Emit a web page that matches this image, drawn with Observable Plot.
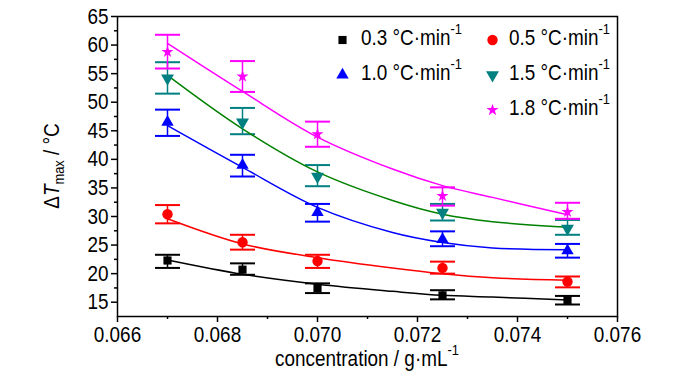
<!DOCTYPE html>
<html>
<head>
<meta charset="utf-8">
<script src="https://cdn.jsdelivr.net/npm/d3@7"></script>
<script src="https://cdn.jsdelivr.net/npm/@observablehq/plot@0.6"></script>
<style>
  body { margin: 0; background: #fff; }
  #chart { position: relative; width: 700px; height: 374px; }
</style>
</head>
<body>
<div id="chart"></div>
<script>
// ---- data ----
const concentration = [0.067, 0.0685, 0.070, 0.0725, 0.075];

const rateNames = ["0.3", "0.5", "1.0", "1.5", "1.8"];

const mean03 = [22.3, 20.7, 17.5, 16.2, 15.4];
const high03 = [23.3, 21.8, 18.3, 17.1, 16.1];
const low03  = [21.0, 19.8, 16.6, 15.5, 14.6];

const mean05 = [30.4, 25.5, 22.2, 21.0, 18.6];
const high05 = [32.0, 26.8, 23.3, 22.1, 19.5];
const low05  = [28.8, 24.2, 21.0, 20.0, 17.6];

const mean10 = [46.5, 39.0, 30.7, 26.0, 24.0];
const high10 = [48.7, 40.8, 32.2, 27.4, 25.2];
const low10  = [44.1, 37.0, 29.1, 24.8, 22.8];

const mean15 = [54.2, 46.5, 37.0, 30.7, 27.9];
const high15 = [57.0, 49.0, 39.0, 32.2, 29.4];
const low15  = [51.5, 44.4, 35.3, 29.3, 26.8];

const mean18 = [58.8, 54.5, 44.4, 33.6, 30.8];
const high18 = [61.8, 57.2, 46.6, 35.1, 32.4];
const low18  = [55.9, 51.8, 42.2, 31.9, 29.6];

// fitted curves
const fitConcentration = [0.067, 0.0685, 0.070, 0.0715, 0.0725, 0.0735, 0.075];
const fit03 = [22.4, 19.9, 18.15, 16.9, 16.2, 15.9, 15.4];
const fit05 = [29.6, 25.2, 22.8, 21.0, 20.0, 19.3, 18.85];
const fit10 = [45.9, 38.6, 31.6, 27.2, 25.45, 24.5, 24.2];
const fit15 = [54.7, 45.35, 37.8, 32.8, 30.4, 29.1, 28.1];
const fit18 = [60.3, 51.9, 43.9, 38.3, 35.4, 33.35, 30.3];

const yMajorTicks = [15, 20, 25, 30, 35, 40, 45, 50, 55, 60, 65];
const yMinorTicks = [17.5, 22.5, 27.5, 32.5, 37.5, 42.5, 47.5, 52.5, 57.5, 62.5];
const xMajorTicks = [0.066, 0.068, 0.070, 0.072, 0.074, 0.076];
const xMinorTicks = [0.067, 0.069, 0.071, 0.073, 0.075];

// ---- styles ----
const FONT = '"Liberation Sans", Arial, sans-serif';
const NARROW = 0.86; // horizontal condensing of the text
const markerColors = ["#000000", "#ff0000", "#0000ff", "#008080", "#ff00ff"];
const curveColors  = ["#000000", "#ff0000", "#0000ff", "#008000", "#ff00ff"];
const symbols = ["square", "circle", "triangle", "triangle", "star"];
const rotations = [0, 0, 0, 180, 0];
const radii = [4.6, 5.2, 4.6, 4.8, 3.8];
// legend placement (offsets from the top-left of the frame)
const legendPos = [
  {mx: 225, my: 23.5, tx: 244, ty: 29},
  {mx: 375, my: 23.5, tx: 392, ty: 29},
  {mx: 225, my: 58.5, tx: 244, ty: 64},
  {mx: 375, my: 58.5, tx: 392, ty: 64},
  {mx: 375, my: 93.5, tx: 392, ty: 99}
];

const means = [mean03, mean05, mean10, mean15, mean18];
const highs = [high03, high05, high10, high15, high18];
const lows  = [low03, low05, low10, low15, low18];
const fits  = [fit03, fit05, fit10, fit15, fit18];

const points = [];
means.forEach((arr, s) => arr.forEach((v, i) => points.push({
  s, x: concentration[i], y: v, hi: highs[s][i], lo: lows[s][i]
})));
const fitRows = [];
fits.forEach((arr, s) => arr.forEach((v, i) => fitRows.push({s, x: fitConcentration[i], y: v})));

const capSymbol = {
  draw(ctx) { ctx.moveTo(-12.5, 0); ctx.lineTo(12.5, 0); }
};

const marks = [];
// error bars
for (let s = 0; s < 5; s++) {
  const pts = points.filter(d => d.s === s);
  marks.push(Plot.ruleX(pts, {x: "x", y1: "lo", y2: "hi", stroke: markerColors[s], strokeWidth: 1.5}));
  marks.push(Plot.dot(pts, {x: "x", y: "hi", symbol: capSymbol, stroke: markerColors[s], fill: "none", strokeWidth: 2}));
  marks.push(Plot.dot(pts, {x: "x", y: "lo", symbol: capSymbol, stroke: markerColors[s], fill: "none", strokeWidth: 2}));
}
// fitted curves
for (let s = 0; s < 5; s++) {
  marks.push(Plot.line(fitRows.filter(d => d.s === s), {
    x: "x", y: "y", stroke: curveColors[s], strokeWidth: 1.5, curve: "catmull-rom"
  }));
}
// markers
for (let s = 0; s < 5; s++) {
  marks.push(Plot.dot(points.filter(d => d.s === s), {
    x: "x", y: "y", symbol: symbols[s], fill: markerColors[s], r: radii[s], rotate: rotations[s]
  }));
}
// legend markers
for (let s = 0; s < 5; s++) {
  marks.push(Plot.dot([rateNames[s]], {
    frameAnchor: "top-left", dx: legendPos[s].mx, dy: legendPos[s].my,
    symbol: symbols[s], fill: markerColors[s], r: radii[s], rotate: rotations[s]
  }));
}

const chart = Plot.plot({
  width: 700,
  height: 374,
  marginLeft: 117,
  marginRight: 83,
  marginTop: 16,
  marginBottom: 58,
  style: {fontFamily: FONT, fontSize: "22px", background: "white", color: "black"},
  x: {domain: [0.066, 0.076]},
  y: {domain: [12.5, 65]},
  marks: [
    ...marks,
    Plot.axisY({ticks: yMajorTicks, tickSize: 6, tickPadding: 3, tickFormat: d => String(d), label: null, strokeWidth: 1.5}),
    Plot.axisY({ticks: yMinorTicks, tickSize: 3, tickFormat: () => "", label: null, strokeWidth: 1.5}),
    Plot.axisX({ticks: xMajorTicks, tickSize: 6, tickPadding: 4, tickFormat: d3.format(".3f"), label: null, strokeWidth: 1.5}),
    Plot.axisX({ticks: xMinorTicks, tickSize: 3, tickFormat: () => "", label: null, strokeWidth: 1.5}),
    Plot.frame({stroke: "black", strokeWidth: 1.5})
  ]
});
document.getElementById("chart").appendChild(chart);

// condense the axis tick labels horizontally (the reference uses a narrow face)
chart.querySelectorAll("text").forEach(t => {
  if (!t.textContent) { t.remove(); return; }
  const tr = t.getAttribute("transform") || "";
  t.setAttribute("transform", `${tr} scale(${NARROW},1)`);
});

// ---- rich texts (sub/superscripts) ----
function rich(x, y, rotate, anchor, parts) {
  const t = d3.select(chart).append("text")
    .attr("transform", `translate(${x},${y}) rotate(${rotate}) scale(${NARROW},1)`)
    .attr("text-anchor", anchor)
    .attr("font-family", FONT)
    .attr("font-size", 22)
    .attr("fill", "black");
  let shift = 0;
  for (const p of parts) {
    const target = p.sup ? -11 : p.sub ? 5 : 0;
    const ts = t.append("tspan").text(p.t).attr("dy", target - shift);
    shift = target;
    if (p.sup || p.sub) ts.attr("font-size", 15);
    if (p.italic) ts.attr("font-style", "italic");
  }
}
const frameLeft = 117, frameTop = 16;
for (let s = 0; s < 5; s++) {
  rich(frameLeft + legendPos[s].tx, frameTop + legendPos[s].ty, 0, "start",
    [{t: `${rateNames[s]} °C·min`}, {t: "-1", sup: true}]);
}
rich(367, 366, 0, "middle", [{t: "concentration / g·mL"}, {t: "-1", sup: true}]);
rich(59, 166, -90, "middle", [{t: "Δ"}, {t: "T", italic: true}, {t: "max", sub: true}, {t: " / °C"}]);
</script>
</body>
</html>
